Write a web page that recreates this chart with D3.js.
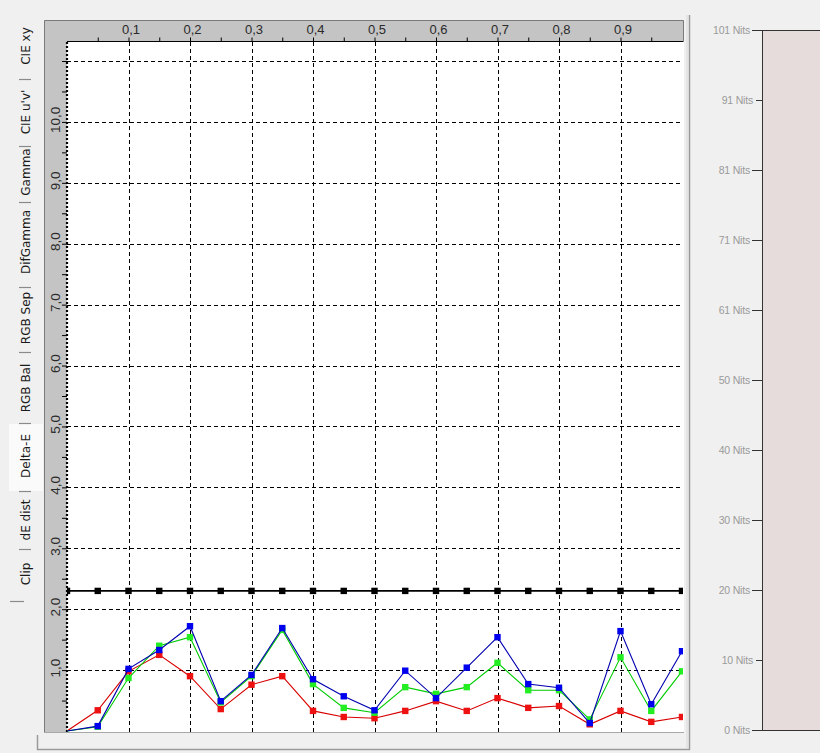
<!DOCTYPE html>
<html>
<head>
  <meta charset="utf-8">
  <title>Delta-E chart</title>
  <script src="https://cdnjs.cloudflare.com/ajax/libs/d3/7.8.5/d3.min.js"></script>
  <style>
    html, body { margin: 0; padding: 0; background: #f0f0f0; }
    svg { display: block; }
  </style>
</head>
<body>
<div id="chart"></div>
<script>

  // gray steps measured, 0 .. 1 in 0.05 steps
  var steps = [0, 0.05, 0.1, 0.15, 0.2, 0.25, 0.3, 0.35, 0.4, 0.45, 0.5,
               0.55, 0.6, 0.65, 0.7, 0.75, 0.8, 0.85, 0.9, 0.95, 1.0];

  var deltaRed   = [0, 0.34, 0.98, 1.25, 0.90, 0.36, 0.76, 0.90, 0.33, 0.23, 0.21,
                    0.33, 0.49, 0.33, 0.54, 0.38, 0.41, 0.11, 0.33, 0.15, 0.23];
  var deltaGreen = [0, 0.07, 0.87, 1.40, 1.54, 0.47, 0.90, 1.66, 0.77, 0.38, 0.30,
                    0.72, 0.61, 0.72, 1.12, 0.67, 0.67, 0.19, 1.21, 0.33, 0.98];
  var deltaBlue  = [0, 0.08, 1.02, 1.33, 1.72, 0.49, 0.92, 1.69, 0.85, 0.57, 0.34,
                    0.99, 0.54, 1.04, 1.54, 0.77, 0.71, 0.13, 1.64, 0.44, 1.31];
  var deltaLimit = 2.3;   // black threshold line

  var xTicks = [0.1, 0.2, 0.3, 0.4, 0.5, 0.6, 0.7, 0.8, 0.9];
  var yTicks = [1, 2, 3, 4, 5, 6, 7, 8, 9, 10, 11];
  var yLabels = [1, 2, 3, 4, 5, 6, 7, 8, 9, 10];

  var tabs = ["CIE xy", "CIE u'v'", "Gamma", "DifGamma", "RGB Sep", "RGB Bal", "Delta-E", "dE dist", "Clip"];
  var tabCenters = [46, 112, 172, 242, 318, 388, 456, 520, 574];
  var tabEdges = [79, 146, 202, 287, 352, 423, 491, 549];

  var nitsLabels = ["0 Nits", "10 Nits", "20 Nits", "30 Nits", "40 Nits", "50 Nits",
                    "61 Nits", "71 Nits", "81 Nits", "91 Nits", "101 Nits"];

  var W = 820, H = 753;
  var svg = d3.select("#chart").append("svg").attr("width", W).attr("height", H);

  svg.append("rect").attr("width", W).attr("height", H).attr("fill", "#f0f0f0");

  var x = d3.scaleLinear().domain([0, 1]).range([67, 682]);
  var y = d3.scaleLinear().domain([0, 11]).range([731, 61]);
  var comma = function (v) { return d3.format(".1f")(v).replace(".", ","); };

  //---
  // Left tab strip (rotated tabs, separators are the tab edges)
  //
  var tabG = svg.append("g");
  tabG.append("rect").attr("x", 9).attr("y", 424).attr("width", 34).attr("height", 67)
    .attr("fill", "#fafafa");
  tabG.selectAll("line.sep").data(tabEdges).enter().append("line")
    .attr("x1", 19).attr("x2", 31)
    .attr("y1", function (d) { return d + 0.5; }).attr("y2", function (d) { return d + 0.5; })
    .attr("stroke", "#8a8a8a").attr("stroke-width", 1.2);
  tabG.append("line").attr("x1", 10).attr("x2", 24).attr("y1", 601.5).attr("y2", 601.5)
    .attr("stroke", "#8a8a8a").attr("stroke-width", 1.2);
  tabG.selectAll("text").data(tabs).enter().append("text")
    .attr("transform", function (d, i) { return "translate(30," + tabCenters[i] + ") rotate(-90)"; })
    .attr("text-anchor", "middle")
    .attr("font-family", "DejaVu Sans, sans-serif").attr("font-size", 12)
    .attr("fill", "#1a1a1a")
    .text(function (d) { return d; });

  //---
  // Frame around plot
  //
  svg.append("rect").attr("x", 44).attr("y", 20).attr("width", 640).attr("height", 22)
    .attr("fill", "#c4c4c4");
  svg.append("rect").attr("x", 44).attr("y", 20).attr("width", 23).attr("height", 713)
    .attr("fill", "#c4c4c4");
  svg.append("rect").attr("x", 67).attr("y", 42).attr("width", 617).attr("height", 690)
    .attr("fill", "#ffffff");
  svg.append("path").attr("d", "M44.5,733V20.5H683.5V42")
    .attr("fill", "none").attr("stroke", "#7a7a7a");
  svg.append("line").attr("x1", 44).attr("x2", 684).attr("y1", 732.5).attr("y2", 732.5)
    .attr("stroke", "#a8a8a8");
  svg.append("path").attr("d", "M37.5,735V749.5H689.5V15")
    .attr("fill", "none").attr("stroke", "#9a9a9a").attr("stroke-width", 1.5);
  svg.append("line").attr("x1", 687).attr("x2", 687).attr("y1", 15).attr("y2", 748)
    .attr("stroke", "#d8d8d8");

  //---
  // Grid
  //
  var grid = svg.append("g").attr("stroke", "#000").attr("stroke-width", 1)
    .attr("stroke-dasharray", "4,3");
  grid.selectAll("line.h").data(yTicks).enter().append("line")
    .attr("x1", 67).attr("x2", 683)
    .attr("y1", function (d) { return Math.round(y(d)) + 0.5; })
    .attr("y2", function (d) { return Math.round(y(d)) + 0.5; });
  grid.selectAll("line.v").data(xTicks).enter().append("line")
    .attr("y1", 42).attr("y2", 732)
    .attr("x1", function (d) { return Math.round(x(d)) + 0.5; })
    .attr("x2", function (d) { return Math.round(x(d)) + 0.5; });

  //---
  // X axis on top (decimal comma labels)
  //
  var xAxis = d3.axisTop(x).tickValues(steps.slice(1, 20)).tickSize(4)
    .tickFormat(function (d) { return xTicks.indexOf(d) >= 0 ? comma(d) : ""; });
  var xa = svg.append("g").attr("transform", "translate(0,41.5)").call(xAxis);
  xa.select(".domain").attr("stroke", "#000").attr("d", "M67,0H683");
  xa.selectAll(".tick line").attr("stroke", "#000");
  xa.selectAll(".tick text").attr("font-family", "Liberation Sans, Arial, sans-serif").attr("font-size", 13)
    .attr("fill", "#2a2a2a").attr("dy", "-1px").attr("dx", "2px");

  //---
  // Y axis on left (rotated labels)
  //
  var yAxis = d3.axisLeft(y).tickValues(d3.range(1, 23).map(function (i) { return i / 2; })).tickSize(5)
    .tickFormat("");
  var ya = svg.append("g").attr("transform", "translate(67,0)").call(yAxis);
  ya.select(".domain").remove();
  ya.selectAll(".tick line").attr("stroke", "#000");
  svg.append("line").attr("x1", 67).attr("x2", 67).attr("y1", 42).attr("y2", 732)
    .attr("stroke", "#000").attr("stroke-width", 2.2).attr("stroke-dasharray", "2,2");
  svg.append("g").selectAll("text").data(yLabels).enter().append("text")
    .attr("transform", function (d) { return "translate(60," + (y(d) - 2) + ") rotate(-90)"; })
    .attr("text-anchor", "middle")
    .attr("font-family", "Liberation Sans, Arial, sans-serif").attr("font-size", 13.5)
    .attr("fill", "#2a2a2a")
    .text(function (d) { return comma(d); });

  //---
  // Series
  //
  svg.append("clipPath").attr("id", "plotclip").append("rect")
    .attr("x", 67).attr("y", 42).attr("width", 616).attr("height", 690);
  var plot = svg.append("g").attr("clip-path", "url(#plotclip)");

  var series = [
    { values: steps.map(function () { return deltaLimit; }), line: "#000", mark: "#000", w: 1.6, first: true },
    { values: deltaRed,   line: "#d80000", mark: "#ee1111", w: 1.1, first: false },
    { values: deltaGreen, line: "#00cc00", mark: "#22ee22", w: 1.1, first: false },
    { values: deltaBlue,  line: "#0000b0", mark: "#0000ee", w: 1.1, first: false }
  ];

  var line = d3.line().x(function (d, i) { return x(steps[i]); }).y(function (d) { return y(d); });

  series.forEach(function (s) {
    plot.append("path").attr("d", line(s.values))
      .attr("fill", "none").attr("stroke", s.line).attr("stroke-width", s.w);
    plot.selectAll(null).data(s.values.map(function (v, i) { return [steps[i], v]; })
        .filter(function (d, i) { return s.first || i > 0; }))
      .enter().append("rect")
      .attr("x", function (d) { return x(d[0]) - 3.2; })
      .attr("y", function (d) { return y(d[1]) - 3.2; })
      .attr("width", 6.4).attr("height", 6.4)
      .attr("fill", s.mark);
  });

  //---
  // Right luminance panel
  //
  var nits = d3.scaleLinear().domain([0, 10]).range([730, 30]);
  svg.append("rect").attr("x", 762.5).attr("y", 30.5).attr("width", 70).attr("height", 700)
    .attr("fill", "#e7dcdc").attr("stroke", "#333").attr("stroke-width", 1);
  var ng = svg.append("g");
  ng.selectAll("line").data(nitsLabels).enter().append("line")
    .attr("x1", function (d, i) { return (i === 1 || i === 9) ? 756 : 752; }).attr("x2", 762)
    .attr("y1", function (d, i) { return Math.round(nits(i)) + 0.5; })
    .attr("y2", function (d, i) { return Math.round(nits(i)) + 0.5; })
    .attr("stroke", "#333");
  ng.selectAll("text").data(nitsLabels).enter().append("text")
    .attr("x", function (d, i) { return (i === 1 || i === 9) ? 753 : 750; })
    .attr("y", function (d, i) { return nits(i) + 3.5; })
    .attr("text-anchor", "end")
    .attr("font-family", "Liberation Sans, Arial, sans-serif").attr("font-size", 10.5)
    .attr("letter-spacing", "-0.2")
    .attr("fill", "#9a9a9a")
    .text(function (d) { return d; });

</script>
</body>
</html>
